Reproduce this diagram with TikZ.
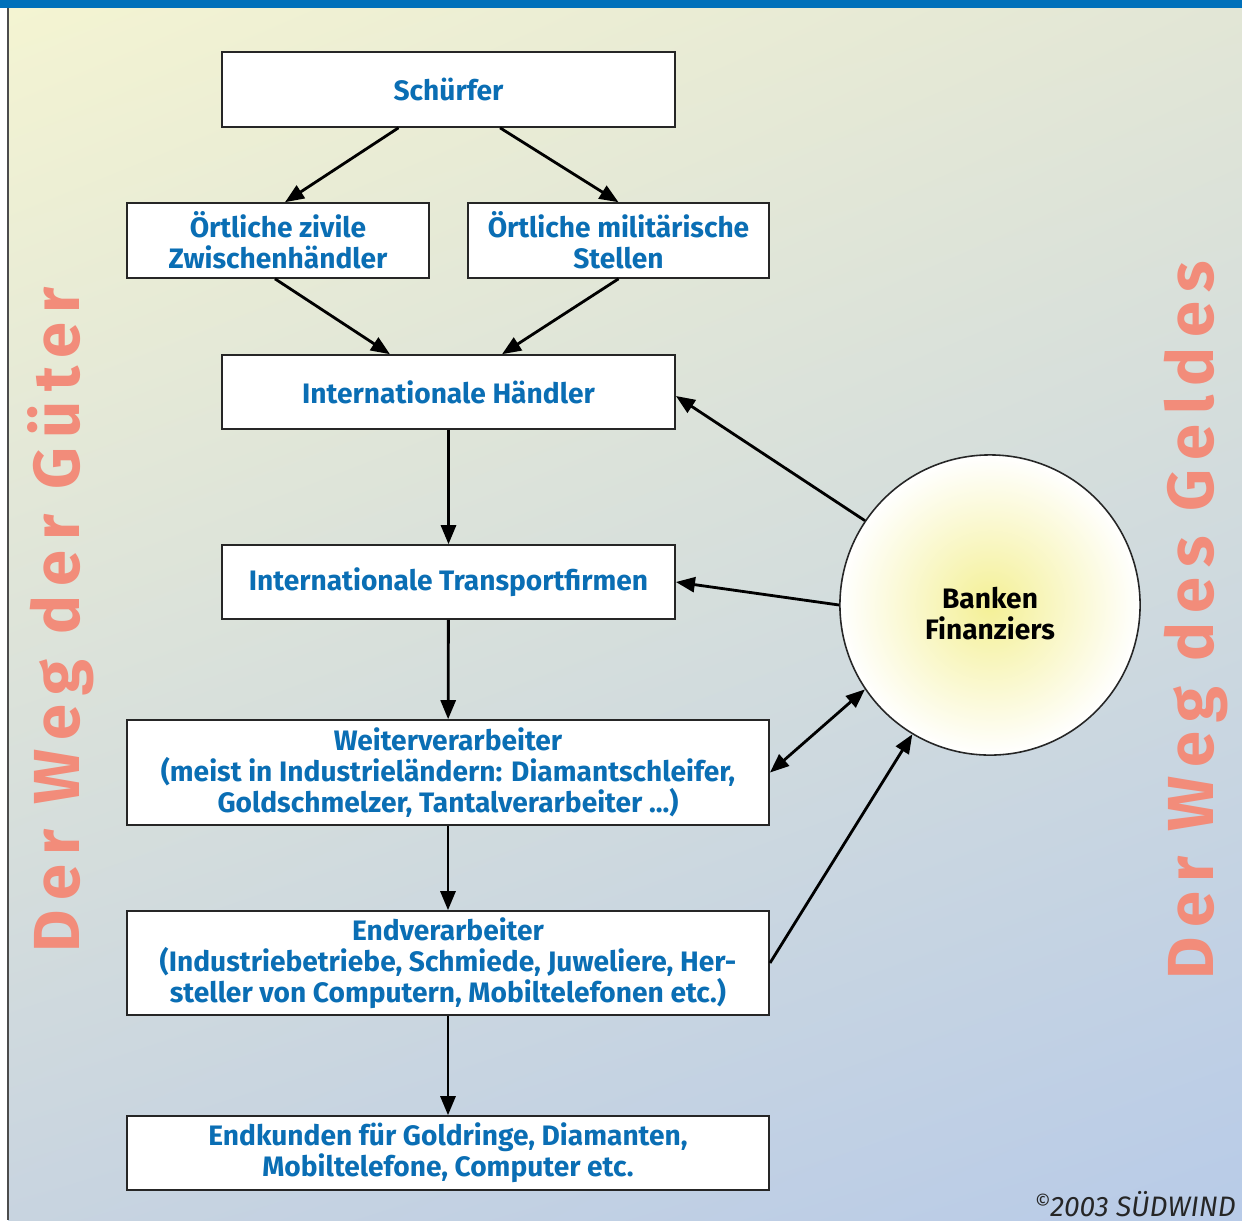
\documentclass[tikz,border=0pt]{standalone}
\usepackage{fontspec}
\setmainfont{Fira Sans}
\usetikzlibrary{arrows.meta,shadings}
\definecolor{textblue}{HTML}{0A6EB4}
\definecolor{barblue}{HTML}{0070BA}
\definecolor{salmon}{HTML}{F28C7A}
\definecolor{bgul}{RGB}{244,244,210}
\definecolor{bgur}{RGB}{226,230,214}
\definecolor{bgll}{RGB}{200,212,224}
\definecolor{bglr}{RGB}{184,203,232}
\definecolor{sunyellow}{RGB}{244,240,150}
\begin{document}
\begin{tikzpicture}[x=0.01cm,y=-0.01cm]
		\tikzset{box/.style = {draw=black!85, line width=0.45pt, fill=white, font=\fontsize{8}{8.8}\selectfont\bfseries, text=textblue, align=center, inner sep=0pt},
			flow/.style = {line width=0.8pt, -{Triangle[length=1.9mm,width=1.5mm]}},
			side/.style = {rotate=90, anchor=base west, text=salmon, font=\fontsize{18.5}{20}\selectfont\bfseries\addfontfeature{LetterSpace=14.5}}}

		% background
		\useasboundingbox (0,0) rectangle (1242,1220);
		\shade[upper left=bgul, upper right=bgur, lower left=bgll, lower right=bglr] (8,8) rectangle (1242,1220);
		\fill[barblue] (0,0) rectangle (1242,8);
		\draw[black!70, line width=0.5pt] (8,8) -- (8,1220);

		\node[side] (guetertext) at (80,965) {Der Weg der Güter};
		\node[side] (geldtext) at (1213,992) {Der Weg des Geldes};

		\node[box, minimum width=4.53cm, minimum height=0.75cm] (schuerfer) at (448.5,89.5) {Schürfer};
		\node[box, minimum width=3.02cm, minimum height=0.75cm] (zivil) at (278,240.5) {Örtliche zivile\\Zwischenhändler};
		\node[box, minimum width=3.01cm, minimum height=0.75cm] (militaer) at (618.5,240.5) {Örtliche militärische\\Stellen};
		\node[box, minimum width=4.53cm, minimum height=0.74cm] (haendler) at (448.5,392) {Internationale Händler};
		\node[box, minimum width=4.53cm, minimum height=0.74cm] (transport) at (448.5,582) {Internationale Transportfirmen};
		\node[box, minimum width=6.42cm, minimum height=1.05cm] (weiter) at (448,772.5) {Weiterverarbeiter\\(meist in Industrieländern: Diamantschleifer,\\Goldschmelzer, Tantalverarbeiter ...)};
		\node[box, minimum width=6.42cm, minimum height=1.04cm] (endverarb) at (448,963) {Endverarbeiter\\(Industriebetriebe, Schmiede, Juweliere, Her-\\steller von Computern, Mobiltelefonen etc.)};
		\node[box, minimum width=6.42cm, minimum height=0.74cm] (endkunden) at (448,1153) {Endkunden für Goldringe, Diamanten,\\Mobiltelefone, Computer etc.};

		\node[circle, draw=black!85, line width=0.45pt, minimum size=3cm, inner color=sunyellow, outer color=white] (bank) at (990,605) {};
		\node[font=\fontsize{8}{8.8}\selectfont\bfseries, align=center] (banktext) at (990,614) {Banken\\Finanziers};

		\node[anchor=base west, inner sep=0pt, font=\fontsize{8}{9}\selectfont\itshape, text=black!85] (copyright) at (1034,1216) {\raisebox{0.5ex}{\fontsize{5.5}{6}\selectfont ©}2003 SÜDWIND};

		\draw[flow] ([xshift=-0.5cm]schuerfer.south) -- ([xshift=0.07cm]zivil.north);
		\draw[flow] ([xshift=0.515cm]schuerfer.south) -- (militaer.north);
		\draw[flow] ([xshift=-0.03cm]zivil.south) -- ([xshift=-0.585cm]haendler.north);
		\draw[flow] (militaer.south) -- ([xshift=0.535cm]haendler.north);
		\draw[flow] (haendler) -- (transport);
		\draw[flow] (transport) -- (weiter);
		\draw[flow] (weiter) -- (endverarb);
		\draw[flow] (endverarb) -- (endkunden);

		\draw[flow] (bank.146) -- ([yshift=-0.04cm]haendler.east);
		\draw[flow] (bank.180) -- (transport.east);
		\draw[flow, {Triangle[length=1.9mm,width=1.5mm]}-{Triangle[length=1.9mm,width=1.5mm]}] (weiter.east) -- (bank.214);
		\draw[flow] (endverarb.east) -- (bank.239);

	\end{tikzpicture}
\end{document}
